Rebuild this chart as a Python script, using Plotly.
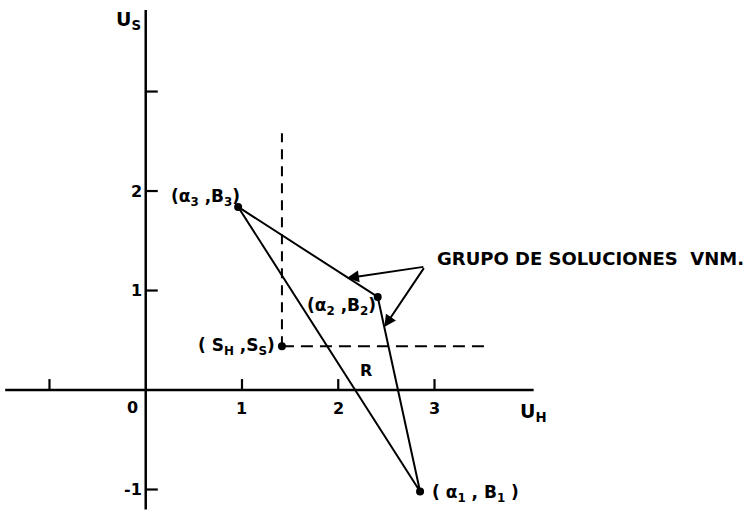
import plotly.graph_objects as go

# Axis ticks (utility units)
x_ticks = [-1, 1, 2, 3]
x_tick_labels = ["", "1", "2", "3"]
y_ticks = [-1, 1, 2, 3]
y_tick_labels = ["-1", "1", "2", ""]

# Extremal payoff points (U_H, U_S)
pt_names = ["a1", "a2", "a3"]
pt_x = [2.85, 2.41, 0.96]
pt_y = [-1.02, 0.935, 1.84]

# Status-quo / threat point
sq_x = 1.415
sq_y = 0.44

# Extent of the guide lines through the status-quo point
guide_top = 2.58
guide_right = 3.52

# Arrow targets on the VNM solution edges and the label anchor they come from
arrow_src = (2.9, 1.24)
arrow_dst_x = [2.09, 2.478]
arrow_dst_y = [1.125, 0.633]

# Axis extents
x_axis_span = [-1.46, 4.03]
y_axis_span = [-1.2, 3.82]

FONT = dict(family="DejaVu Sans", size=16, color="black", weight="bold")
LBL = dict(family="DejaVu Sans", size=17, color="black", weight="bold")
INK = "black"

fig = go.Figure()

# Coordinate axes
fig.add_trace(go.Scatter(x=x_axis_span, y=[0, 0], mode="lines",
                         line=dict(color=INK, width=2.5), hoverinfo="skip"))
fig.add_trace(go.Scatter(x=[0, 0], y=y_axis_span, mode="lines",
                         line=dict(color=INK, width=2.5), hoverinfo="skip"))

# Tick marks: x ticks point up, y ticks point right
tx, ty = [], []
for v in x_ticks:
    tx += [v, v, None]
    ty += [0, 0.11, None]
for v in y_ticks:
    tx += [0, 0.125, None]
    ty += [v, v, None]
fig.add_trace(go.Scatter(x=tx, y=ty, mode="lines",
                         line=dict(color=INK, width=2.2), hoverinfo="skip"))

# Bargaining region boundary (triangle)
fig.add_trace(go.Scatter(x=pt_x + [pt_x[0]], y=pt_y + [pt_y[0]], mode="lines",
                         line=dict(color=INK, width=2), hoverinfo="skip"))

# Dashed guide lines from the status-quo point
fig.add_trace(go.Scatter(x=[sq_x, sq_x], y=[sq_y, guide_top], mode="lines",
                         line=dict(color=INK, width=2, dash="10px,7px"), hoverinfo="skip"))
fig.add_trace(go.Scatter(x=[sq_x, guide_right], y=[sq_y, sq_y], mode="lines",
                         line=dict(color=INK, width=2, dash="12px,7px"), hoverinfo="skip"))

# Points
fig.add_trace(go.Scatter(x=pt_x + [sq_x], y=pt_y + [sq_y], mode="markers",
                         marker=dict(color=INK, size=8), hoverinfo="skip"))

ann = []

# Tick labels
for v, t in zip(x_ticks, x_tick_labels):
    if t:
        ann.append(dict(x=v, y=0, text=t, showarrow=False, yshift=-18, font=FONT))
ann.append(dict(x=0, y=0, text="0", showarrow=False, xshift=-13, yshift=-17, font=FONT))
for v, t in zip(y_ticks, y_tick_labels):
    if t:
        ann.append(dict(x=0, y=v, text=t, showarrow=False, xanchor="right",
                        xshift=-2, font=FONT))

# Axis titles
ann.append(dict(x=0, y=y_axis_span[1], text="U<sub>S</sub>", showarrow=False,
                xanchor="right", yanchor="top", xshift=-3, yshift=4,
                font=dict(LBL, size=19)))
ann.append(dict(x=x_axis_span[1], y=0, text="U<sub>H</sub>", showarrow=False,
                xanchor="center", yanchor="top", yshift=-8,
                font=dict(LBL, size=19)))

# Point labels
ann.append(dict(x=pt_x[2], y=pt_y[2], text="(α<sub>3</sub> ,B<sub>3</sub>)", showarrow=False,
                xanchor="right", xshift=4, yshift=9, font=LBL))
ann.append(dict(x=pt_x[1], y=pt_y[1], text="(α<sub>2</sub> ,B<sub>2</sub>)", showarrow=False,
                xanchor="right", xshift=0, yshift=-10, font=LBL))
ann.append(dict(x=pt_x[0], y=pt_y[0], text="( α<sub>1</sub> , B<sub>1</sub> )", showarrow=False,
                xanchor="left", xshift=10, yshift=-2, font=LBL))
ann.append(dict(x=sq_x, y=sq_y, text="( S<sub>H</sub> ,S<sub>S</sub>)", showarrow=False,
                xanchor="right", xshift=-5, yshift=0, font=LBL))
ann.append(dict(x=2.29, y=0.2, text="R", showarrow=False, font=FONT))

# Arrows to the VNM solution set
for ex, ey in zip(arrow_dst_x, arrow_dst_y):
    ann.append(dict(x=ex, y=ey, ax=arrow_src[0], ay=arrow_src[1], axref="x", ayref="y",
                    xref="x", yref="y", showarrow=True, arrowhead=2, arrowsize=1.2,
                    arrowwidth=2, arrowcolor=INK, standoff=0, text=""))
ann.append(dict(x=arrow_src[0], y=arrow_src[1], text="GRUPO DE SOLUCIONES  VNM.",
                showarrow=False, xanchor="left", xshift=10, yshift=8,
                font=dict(family="DejaVu Sans", size=18, color="black", weight="bold")))

fig.update_layout(
    width=746, height=512,
    margin=dict(l=0, r=0, t=0, b=0),
    paper_bgcolor="white", plot_bgcolor="white",
    showlegend=False,
    xaxis=dict(range=[-1.514, 6.236], visible=False, fixedrange=True),
    yaxis=dict(range=[-1.226, 3.92], visible=False, fixedrange=True),
    annotations=ann,
)

fig.write_html("out.html")
